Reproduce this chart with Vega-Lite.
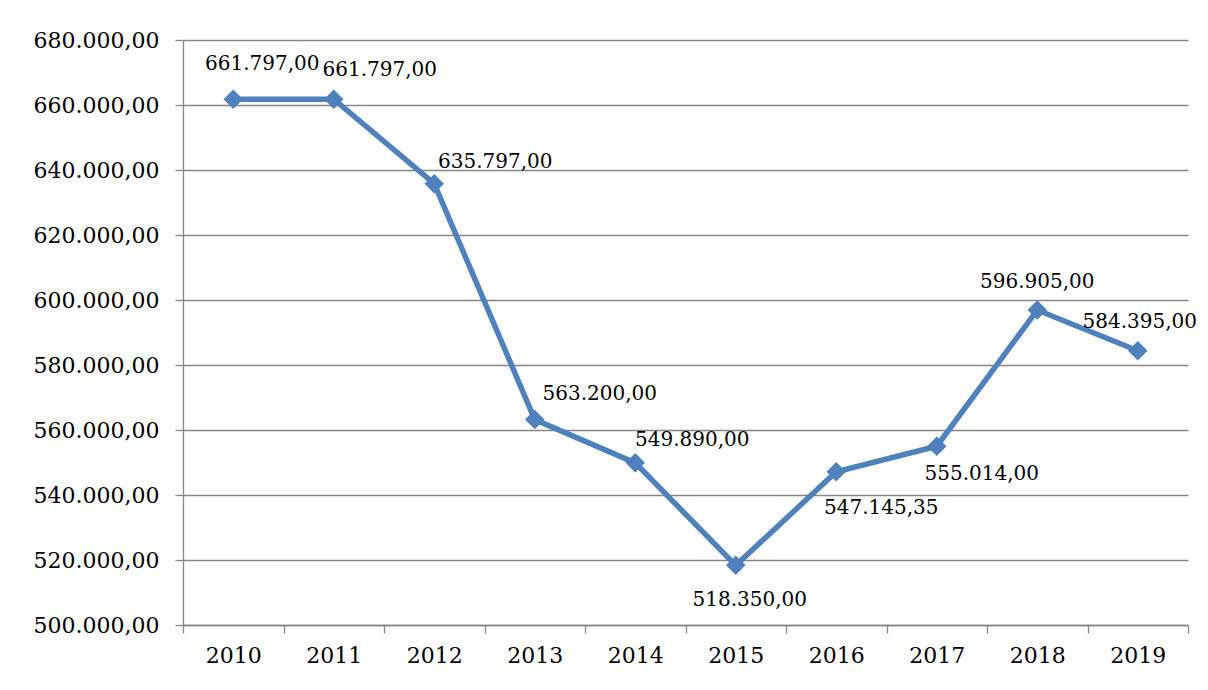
{
  "$schema": "https://vega.github.io/schema/vega-lite/v6.json",
  "autosize": "none",
  "padding": {"left": 183, "top": 40, "right": 20, "bottom": 65},
  "width": 1005,
  "height": 585,
  "background": "white",
  "config": {
    "locale": {"number": {"decimal": ",", "thousands": ".", "grouping": [3], "currency": ["", ""]}},
    "view": {"stroke": null},
    "font": "DejaVu Serif"
  },
  "data": {
    "values": [
      {"year": "2010", "value": 661797.00},
      {"year": "2011", "value": 661797.00},
      {"year": "2012", "value": 635797.00},
      {"year": "2013", "value": 563200.00},
      {"year": "2014", "value": 549890.00},
      {"year": "2015", "value": 518350.00},
      {"year": "2016", "value": 547145.35},
      {"year": "2017", "value": 555014.00},
      {"year": "2018", "value": 596905.00},
      {"year": "2019", "value": 584395.00}
    ]
  },
  "encoding": {
    "x": {
      "field": "year", "type": "ordinal", "title": null,
      "scale": {"paddingInner": 0, "paddingOuter": 0},
      "axis": {
        "labelAngle": 0, "tickBand": "extent", "grid": false,
        "domainColor": "#868686", "domainWidth": 1.3, "tickColor": "#868686", "tickWidth": 1.3, "tickSize": 8,
        "labelFont": "DejaVu Serif", "labelFontSize": 22, "labelColor": "black",
        "labelPadding": 12
      }
    },
    "y": {
      "field": "value", "type": "quantitative", "title": null,
      "scale": {"domain": [500000, 680000], "nice": false, "zero": false},
      "axis": {
        "values": [500000, 520000, 540000, 560000, 580000, 600000, 620000, 640000, 660000, 680000],
        "format": ",.2f", "grid": true, "gridColor": "#868686", "gridWidth": 1.3,
        "domainColor": "#868686", "domainWidth": 1.3, "tickColor": "#868686", "tickWidth": 1.3, "tickSize": 8,
        "labelFont": "DejaVu Serif", "labelFontSize": 22, "labelColor": "black",
        "labelPadding": 16
      }
    }
  },
  "layer": [
    {"mark": {"type": "line", "color": "#4F81BD", "strokeWidth": 5.5}},
    {"mark": {"type": "point", "shape": "diamond", "filled": true, "color": "#4F81BD", "size": 380, "opacity": 1}},
    {"transform": [{"filter": "datum.year == '2010'"}], "mark": {"type": "text", "fontSize": 20, "color": "black", "baseline": "middle", "dx": 29, "dy": -35}, "encoding": {"text": {"field": "value", "type": "quantitative", "format": ",.2f"}}},
    {"transform": [{"filter": "datum.year == '2011'"}], "mark": {"type": "text", "fontSize": 20, "color": "black", "baseline": "middle", "dx": 46, "dy": -29}, "encoding": {"text": {"field": "value", "type": "quantitative", "format": ",.2f"}}},
    {"transform": [{"filter": "datum.year == '2012'"}], "mark": {"type": "text", "fontSize": 20, "color": "black", "baseline": "middle", "dx": 61, "dy": -22}, "encoding": {"text": {"field": "value", "type": "quantitative", "format": ",.2f"}}},
    {"transform": [{"filter": "datum.year == '2013'"}], "mark": {"type": "text", "fontSize": 20, "color": "black", "baseline": "middle", "dx": 65, "dy": -26}, "encoding": {"text": {"field": "value", "type": "quantitative", "format": ",.2f"}}},
    {"transform": [{"filter": "datum.year == '2014'"}], "mark": {"type": "text", "fontSize": 20, "color": "black", "baseline": "middle", "dx": 57, "dy": -23}, "encoding": {"text": {"field": "value", "type": "quantitative", "format": ",.2f"}}},
    {"transform": [{"filter": "datum.year == '2015'"}], "mark": {"type": "text", "fontSize": 20, "color": "black", "baseline": "middle", "dx": 14, "dy": 35}, "encoding": {"text": {"field": "value", "type": "quantitative", "format": ",.2f"}}},
    {"transform": [{"filter": "datum.year == '2016'"}], "mark": {"type": "text", "fontSize": 20, "color": "black", "baseline": "middle", "dx": 45, "dy": 36}, "encoding": {"text": {"field": "value", "type": "quantitative", "format": ",.2f"}}},
    {"transform": [{"filter": "datum.year == '2017'"}], "mark": {"type": "text", "fontSize": 20, "color": "black", "baseline": "middle", "dx": 45, "dy": 28}, "encoding": {"text": {"field": "value", "type": "quantitative", "format": ",.2f"}}},
    {"transform": [{"filter": "datum.year == '2018'"}], "mark": {"type": "text", "fontSize": 20, "color": "black", "baseline": "middle", "dx": 0, "dy": -28}, "encoding": {"text": {"field": "value", "type": "quantitative", "format": ",.2f"}}},
    {"transform": [{"filter": "datum.year == '2019'"}], "mark": {"type": "text", "fontSize": 20, "color": "black", "baseline": "middle", "dx": 2, "dy": -29}, "encoding": {"text": {"field": "value", "type": "quantitative", "format": ",.2f"}}}
  ]
}
